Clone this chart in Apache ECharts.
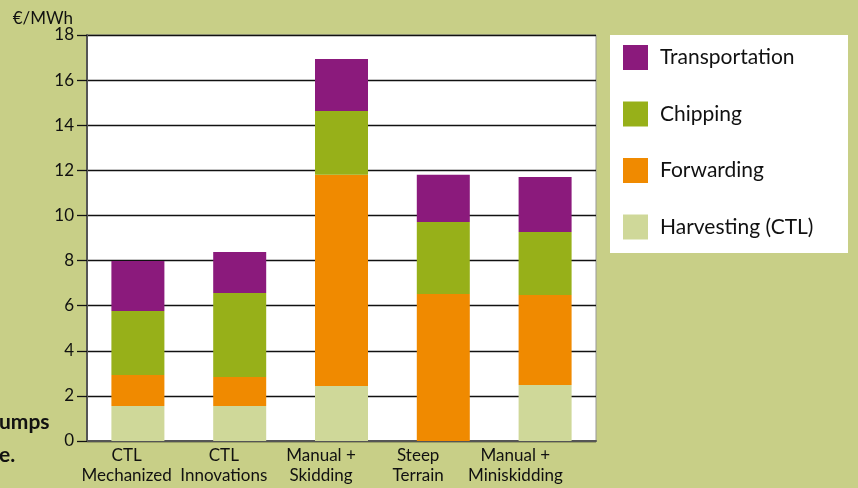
<!DOCTYPE html>
<html><head><meta charset="utf-8">
<script src="https://cdn.jsdelivr.net/npm/echarts@6/dist/echarts.min.js"></script>
<style>html,body{margin:0;padding:0;background:#c8cf87;}#c{width:858px;height:488px;}</style>
</head><body><div id="c"></div>
<script>
const categories = ['CTL\nMechanized', 'CTL\nInnovations', 'Manual +\nSkidding', 'Steep\nTerrain', 'Manual +\nMiniskidding'];
const harvesting = [1.55, 1.55, 2.44, 0, 2.48];
const forwarding = [1.38, 1.29, 9.36, 6.52, 3.99];
const chipping = [2.83, 3.72, 2.83, 3.19, 2.8];
const transportation = [2.22, 1.82, 2.31, 2.09, 2.43];
const yTicks = [0, 2, 4, 6, 8, 10, 12, 14, 16, 18];
const seriesNames = ['Harvesting (CTL)', 'Forwarding', 'Chipping', 'Transportation'];
const colors = ['#cfd899', '#f08a00', '#97b019', '#8b1a7c'];
const FONT = 'Lato, "Open Sans", sans-serif';

const chart = echarts.init(document.getElementById('c'), null, {renderer: 'canvas'});
const dataSets = [harvesting, forwarding, chipping, transportation];
chart.setOption({
  backgroundColor: '#c8cf87',
  animation: false,
  textStyle: {fontFamily: FONT},
  graphic: [
    {type: 'rect', shape: {x: 610, y: 35, width: 238, height: 218}, style: {fill: '#ffffff'}, z: -1},
    {type: 'text', left: -1, top: 412, style: {text: 'umps', font: 'bold 21px ' + FONT, fill: '#111'}},
    {type: 'text', left: -1, top: 445, style: {text: 'e.', font: 'bold 21px ' + FONT, fill: '#111'}}
  ],
  legend: {
    orient: 'vertical', left: 618, top: 40,
    data: ['Transportation', 'Chipping', 'Forwarding', 'Harvesting (CTL)'],
    itemWidth: 25, itemHeight: 25, itemGap: 31.5,
    icon: 'rect',
    textStyle: {fontSize: 21, color: '#111', fontFamily: FONT, padding: [0, 0, 0, 7]}
  },
  grid: [
    {left: 87, top: 35, width: 509, height: 406, show: true, backgroundColor: '#ffffff', borderColor: '#999', borderWidth: 1},
    {left: 78, top: 35, width: 486, height: 406}
  ],
  xAxis: [
    {type: 'category', gridIndex: 0, data: categories,
     axisLine: {show: true, lineStyle: {color: '#555', width: 2}},
     axisTick: {show: false}, axisLabel: {show: false}},
    {type: 'category', gridIndex: 1, data: categories,
     axisLine: {show: false}, axisTick: {show: false},
     axisLabel: {show: true, interval: 0, fontSize: 17, color: '#111', lineHeight: 20, margin: 5, fontFamily: FONT}}
  ],
  yAxis: [
    {type: 'value', gridIndex: 0, min: 0, max: 18, interval: 2,
     name: '€/MWh', nameLocation: 'end', nameGap: 8,
     nameTextStyle: {fontSize: 17, color: '#111', align: 'right', padding: [0, 14, 0, 0], fontFamily: FONT},
     axisLine: {show: true, lineStyle: {color: '#555', width: 2}},
     axisTick: {show: true, length: 10, lineStyle: {color: '#111', width: 1.3}},
     axisLabel: {fontSize: 17, color: '#111', margin: 13, fontFamily: FONT,
       formatter: v => yTicks.includes(v) ? String(v) : ''},
     splitLine: {show: true, lineStyle: {color: '#111', width: 1.3}}},
    {type: 'value', gridIndex: 1, min: 0, max: 18, show: false}
  ],
  series: seriesNames.map((n, i) => ({
    name: n, type: 'bar', stack: 'total', xAxisIndex: 0, yAxisIndex: 0,
    barWidth: 53, data: dataSets[i], itemStyle: {color: colors[i]}
  }))
});
</script></body></html>
